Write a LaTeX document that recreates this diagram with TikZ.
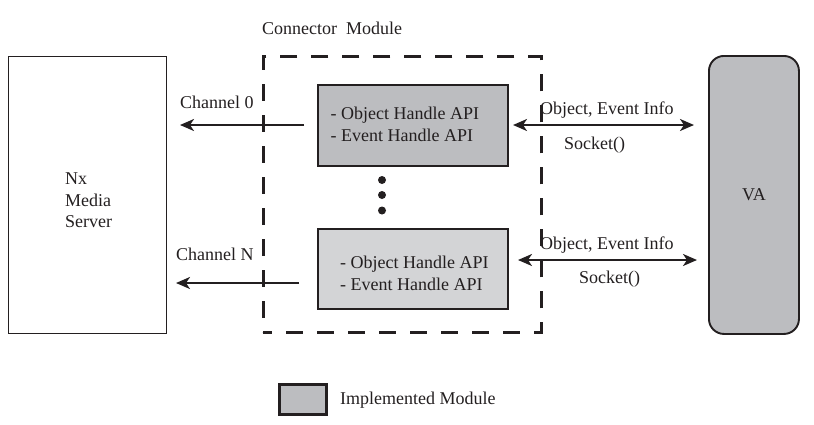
\documentclass[tikz,border=0pt]{standalone}
\usepackage{fontspec}
\setmainfont{Liberation Serif}
\usetikzlibrary{arrows.meta}
\definecolor{ink}{HTML}{231F20}
\definecolor{darkfill}{HTML}{BCBDC0}
\definecolor{lightfill}{HTML}{D3D4D6}
\tikzset{
  boxed/.style={draw=ink, line width=1.9pt, inner sep=0pt, anchor=north west},
  txt/.style={text=ink, inner sep=0pt, anchor=base west, font=\fontsize{18}{21}\selectfont},
  arr/.style={draw=ink, line width=2.2pt, -{Stealth[length=14pt,width=12pt,inset=4pt]}},
  darr/.style={draw=ink, line width=2.2pt, {Stealth[length=14pt,width=12pt,inset=4pt]}-{Stealth[length=14pt,width=12pt,inset=4pt]}},
  dotm/.style={circle, fill=ink, inner sep=0pt, minimum size=8pt}
}
\begin{document}
\begin{tikzpicture}[x=1pt,y=-1pt]
\useasboundingbox (0,0) rectangle (814,424);
% Nx Media Server
\node[boxed, minimum width=158pt, minimum height=277pt] (nx) at (7.5,55.5) {};
\node[txt] (nx1) at (65,184) {Nx};
\node[txt] (nx2) at (65,206) {Media};
\node[txt] (nx3) at (65,227) {Server};
% Connector module
\node[draw=ink, line width=2.5pt, dash pattern=on 17pt off 14pt, dash phase=8pt, inner sep=0pt, anchor=north west, minimum width=278pt, minimum height=276pt] (cm) at (262,55) {};
\node[txt] (cmlab) at (262,34) {Connector\hspace{9pt}Module};
% top API box
\node[boxed, fill=darkfill, minimum width=190pt, minimum height=81pt] (top) at (317,84) {};
\node[txt] (t1) at (330.5,119) {- Object Handle API};
\node[txt] (t2) at (330.5,141) {- Event Handle API};
% bottom API box
\node[boxed, fill=lightfill, minimum width=190pt, minimum height=80pt] (bot) at (317,228) {};
\node[txt] (b1) at (340,268) {- Object Handle API};
\node[txt] (b2) at (340,290.5) {- Event Handle API};
% dots
\node[dotm] (d1) at (382,180) {};
\node[dotm] (d2) at (382,195) {};
\node[dotm] (d3) at (382,210.5) {};
% VA
\node[draw=ink, line width=1.9pt, fill=darkfill, rounded corners=15pt, minimum width=90pt, minimum height=278pt, anchor=north west, inner sep=0pt] (va) at (708,55) {};
\node[text=ink, font=\fontsize{18}{21}\selectfont, inner sep=0pt] (valab) at (va.center) {VA};
% channel arrows
\coordinate (c0s) at (304,125);
\coordinate (c0e) at (180,125);
\draw[arr] (c0s) -- (c0e);
\node[txt] (c0lab) at (180,108) {Channel 0};
\coordinate (cns) at (299,283);
\coordinate (cne) at (176,283);
\draw[arr] (cns) -- (cne);
\node[txt] (cnlab) at (176,260) {Channel N};
% socket arrows
\coordinate (s0a) at (513,125);
\coordinate (s0b) at (694,125);
\draw[darr] (s0a) -- (s0b);
\node[txt] (s0l1) at (540,114) {Object, Event Info};
\node[txt] (s0l2) at (564,149) {Socket()};
\coordinate (s1a) at (518,260);
\coordinate (s1b) at (697,260);
\draw[darr] (s1a) -- (s1b);
\node[txt] (s1l1) at (540,249) {Object, Event Info};
\node[txt] (s1l2) at (579,283) {Socket()};
% legend
\node[draw=ink, line width=2.8pt, fill=darkfill, minimum width=47pt, minimum height=30pt, inner sep=0pt, anchor=north west] (leg) at (278,383) {};
\node[txt] (leglab) at (340,404) {Implemented Module};
\end{tikzpicture}
\end{document}
